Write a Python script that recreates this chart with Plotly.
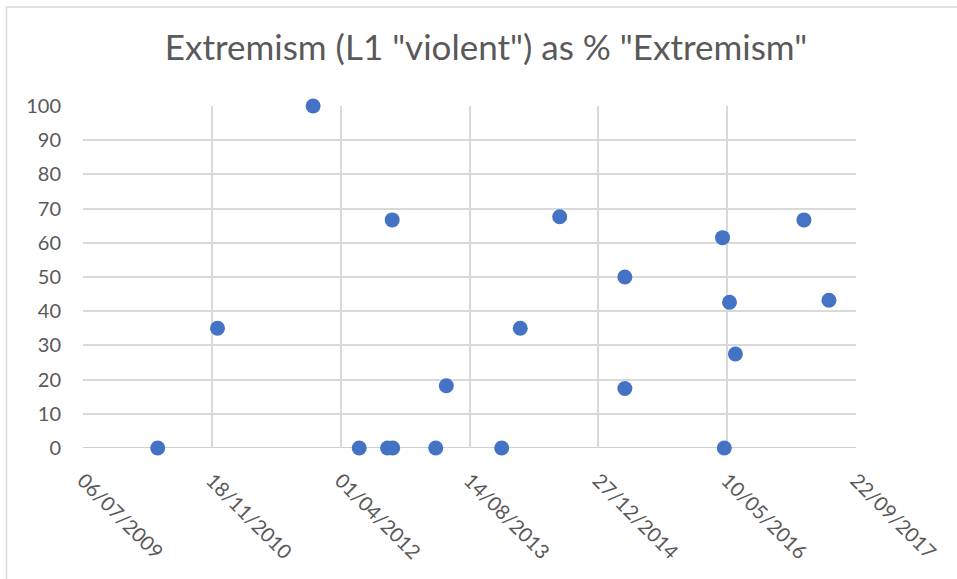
import plotly.graph_objects as go

# Observation dates and share of "Extremism" items tagged L1 "violent" (%)
dates = [
    "2010-04-22", "2010-12-10", "2011-12-16", "2012-06-12", "2012-09-30",
    "2012-10-20", "2012-10-18", "2013-04-05", "2013-05-16", "2013-12-17",
    "2014-02-27", "2014-07-30", "2015-04-09", "2015-04-09", "2016-04-22",
    "2016-04-29", "2016-05-19", "2016-06-11", "2017-03-04", "2017-06-09",
]
values = [
    0, 35, 100, 0, 0,
    0, 66.7, 0, 18.2, 0,
    35, 67.6, 50, 17.4, 61.5,
    0, 42.6, 27.5, 66.7, 43.2,
]

x_start = "2009-07-06"
x_end = "2017-09-22"
tick_step_days = 500
y_ticks = list(range(0, 101, 10))

W, H = 957, 579
ML, MR, MT, MB = 83, 101, 106, 131
pw, ph = W - ML - MR, H - MT - MB

text_color = "#595959"
grid_color = "#d9d9d9"

fig = go.Figure()
fig.add_trace(go.Scatter(
    x=dates, y=values, mode="markers",
    marker=dict(color="#4472C4", size=15, line=dict(width=0)),
    cliponaxis=False,
    showlegend=False,
))

# Outer chart frame (only left and top edges fall inside the view)
def px_to_paper_x(px):
    return (px - ML) / pw

def px_to_paper_y(py):
    return (H - MB - py) / ph

fig.add_shape(
    type="rect", xref="paper", yref="paper",
    x0=px_to_paper_x(6.5), x1=px_to_paper_x(W + 20),
    y0=px_to_paper_y(H + 20), y1=px_to_paper_y(7),
    line=dict(color="#d9d9d9", width=1.5), fillcolor="rgba(0,0,0,0)",
    layer="below",
)

fig.update_layout(
    width=W, height=H,
    margin=dict(l=ML, r=MR, t=MT, b=MB, pad=0),
    paper_bgcolor="white", plot_bgcolor="white",
    title=dict(
        text='Extremism (L1 "violent") as % "Extremism"',
        x=486 / W, xref="container", xanchor="center",
        y=1 - 48 / H, yanchor="middle",
        font=dict(family="Lato", size=35, color=text_color),
    ),
    font=dict(family="Lato", color=text_color),
)

fig.update_xaxes(
    type="date",
    range=[x_start, x_end],
    tick0=x_start,
    dtick=tick_step_days * 86400000,
    tickformat="%d/%m/%Y",
    tickangle=45,
    tickfont=dict(size=20, color=text_color),
    showgrid=True, gridcolor=grid_color, gridwidth=1.5,
    showline=False, zeroline=False,
    ticks="", ticklabelstandoff=16,
)
fig.update_yaxes(
    range=[0, 100],
    tickvals=y_ticks,
    tickfont=dict(size=20, color=text_color),
    showgrid=True, gridcolor=grid_color, gridwidth=1.5,
    showline=False, zeroline=False,
    ticks="", ticklabelstandoff=21,
)

# Horizontal baseline at 0 (category axis line)
fig.add_shape(
    type="line", xref="paper", yref="y",
    x0=0, x1=1, y0=0, y1=0,
    line=dict(color="#bfbfbf", width=1.5), layer="below",
)

fig.write_html("out.html")
